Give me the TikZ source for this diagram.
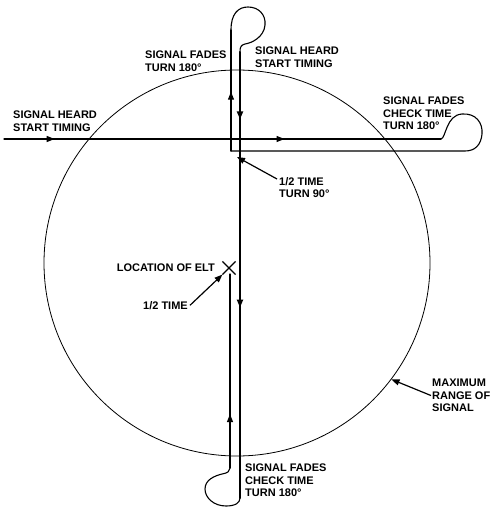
\documentclass[tikz,border=0pt]{standalone}
\usepackage{fontspec}
\setmainfont{Liberation Sans}
\usepackage{tikz}
\usetikzlibrary{positioning,arrows.meta,decorations.markings,shapes.misc}

\begin{document}
\begin{tikzpicture}[x=1pt,y=-1pt,
  lbl/.style={align=left,inner sep=0pt,anchor=north west,font=\bfseries\fontsize{11}{12.5}\selectfont},
  route/.style={line width=1.1pt,line cap=round,line join=round},
  heavy/.style={line width=2pt,line cap=round},
  tipat/.style={postaction={decorate,decoration={markings,mark=at position #1 with {\arrow{Triangle[length=8pt,width=6pt]}}}}},
  lead/.style={-{Triangle[length=8pt,width=6pt]},line width=1.2pt}]
\useasboundingbox (0,0) rectangle (497,508);
\node[draw,circle,line width=0.8pt,minimum size=386pt,inner sep=0pt] (range) at (237,263) {};
\coordinate (inL) at (4,139);
\coordinate (outR) at (441,139);
\coordinate (retR) at (465,151);
\coordinate (half) at (231,151);
\coordinate (upT) at (231,30);
\coordinate (downT) at (240,52);
\coordinate (downB) at (240,498);
\coordinate (upB) at (230,468);
\node[draw,cross out,line width=1.2pt,minimum size=12pt,inner sep=0pt] (elt) at (229,268) {};
\coordinate (eltS) at (230,274);
\draw[route,tipat=0.116,tipat=0.642] (inL) -- (outR);
\draw[route] (outR) .. controls (446,138) and (446,115) .. (462,114) .. controls (476,113) and (483,123) .. (482,134) .. controls (481,145) and (475,151) .. (retR) -- (half);
\draw[route,tipat=0.49] (half) -- (upT);
\draw[route] (upT) .. controls (231,14) and (238,7) .. (248,7) .. controls (259,7) and (266,15) .. (265,25) .. controls (264,37) and (252,43) .. (245,44) .. controls (241,45) and (240,47) .. (downT);
\draw[heavy,tipat=0.151,tipat=0.573] (downT) -- (downB);
\draw[route] (downB) .. controls (240,503) and (235,506) .. (226,506) .. controls (214,506) and (205,498) .. (205,489) .. controls (205,480) and (214,476) .. (222,474) .. controls (228,473) and (230,471) .. (upB);
\draw[route,tipat=0.278] (upB) -- (eltS);
\node[lbl] (fadesTop) at (145,51) {SIGNAL FADES\\TURN 180°};
\node[lbl] (heardTop) at (255,47) {SIGNAL HEARD\\START TIMING};
\node[lbl] (heardLeft) at (13,111) {SIGNAL HEARD\\START TIMING};
\node[lbl] (fadesRight) at (383,97) {SIGNAL FADES\\CHECK TIME\\TURN 180°};
\node[lbl] (halfTurn) at (279,177) {1/2 TIME\\TURN 90°};
\node[lbl,anchor=north east] (eltLabel) at (215,264) {LOCATION OF ELT};
\node[lbl,anchor=north east] (halfTime) at (188,301) {1/2 TIME};
\node[lbl] (maxRange) at (432,379) {MAXIMUM\\RANGE OF\\SIGNAL};
\node[lbl] (fadesBottom) at (245,464) {SIGNAL FADES\\CHECK TIME\\TURN 180°};
\draw[lead] ([xshift=-2pt,yshift=-2pt]halfTurn.north west) -- ([xshift=6pt,yshift=-6pt]half);
\draw[lead] ([xshift=2pt]halfTime.east) -- (elt.south west);
\draw[lead] ([xshift=-1pt]maxRange.west) -- (range.-37);
\end{tikzpicture}
\end{document}
